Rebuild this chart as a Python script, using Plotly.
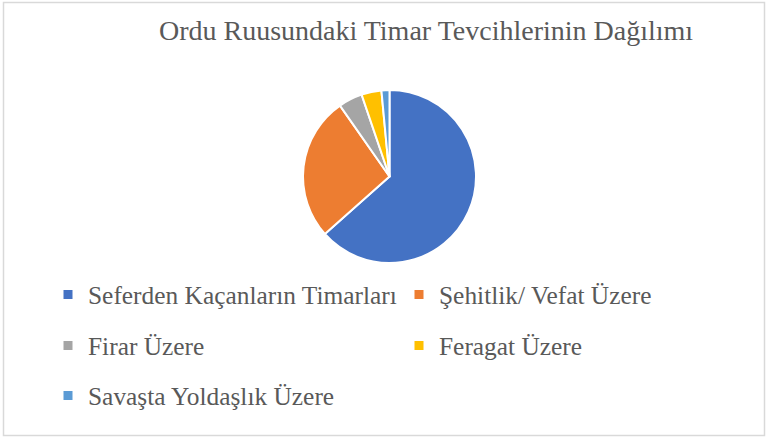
import plotly.graph_objects as go

title = "Ordu Ruusundaki Timar Tevcihlerinin Dağılımı"
labels = ["Seferden Kaçanların Timarları", "Şehitlik/ Vefat Üzere", "Firar Üzere",
          "Feragat Üzere", "Savaşta Yoldaşlık Üzere"]
values = [85, 36, 6, 5, 2]
colors = ["#4472C4", "#ED7D31", "#A5A5A5", "#FFC000", "#5B9BD5"]
legend_rows = ["legend", "legend", "legend2", "legend2", "legend3"]

W, H = 766, 437
cx, cy, r = 389.5, 176.5, 86.5

fig = go.Figure()
fig.add_trace(go.Pie(
    labels=labels, values=values, sort=False, direction="clockwise", rotation=0,
    marker=dict(colors=colors, line=dict(color="white", width=2)),
    textinfo="none", hoverinfo="label+value+percent", showlegend=False,
    domain=dict(x=[(cx - r) / W, (cx + r) / W], y=[(H - cy - r) / H, (H - cy + r) / H]),
))
for lab, col, lg in zip(labels, colors, legend_rows):
    fig.add_trace(go.Scatter(x=[None], y=[None], mode="markers", name=lab,
                             marker=dict(symbol="square", size=9, color=col),
                             legend=lg, showlegend=True))

serif = "Liberation Serif"
font = dict(family=serif, size=25.4, color="#595959")
leg_common = dict(orientation="h", xanchor="left", yanchor="middle", font=font,
                  entrywidth=306, entrywidthmode="pixels", bgcolor="rgba(0,0,0,0)",
                  itemclick=False, itemdoubleclick=False)
text_x0 = 48
fig.update_layout(
    width=W, height=H, margin=dict(l=0, r=0, t=0, b=0),
    paper_bgcolor="white", plot_bgcolor="white",
    title=dict(text=title, x=426 / W, xanchor="center", y=1 - 30 / H, yanchor="middle",
               font=dict(family=serif, size=28, color="#595959")),
    xaxis=dict(visible=False), yaxis=dict(visible=False),
    legend=dict(**leg_common, x=text_x0 / W, y=1 - 295 / H),
    legend2=dict(**leg_common, x=text_x0 / W, y=1 - 346 / H),
    legend3=dict(**leg_common, x=text_x0 / W, y=1 - 396 / H),
    shapes=[dict(type="rect", xref="paper", yref="paper", x0=3.5 / W, x1=764.5 / W,
                 y0=1 - 435.5 / H, y1=1 - 2.5 / H, line=dict(color="#D9D9D9", width=1.5))],
)
fig.write_html("out.html", config={"displayModeBar": False},
               post_script="document.body.style.margin='0';")
